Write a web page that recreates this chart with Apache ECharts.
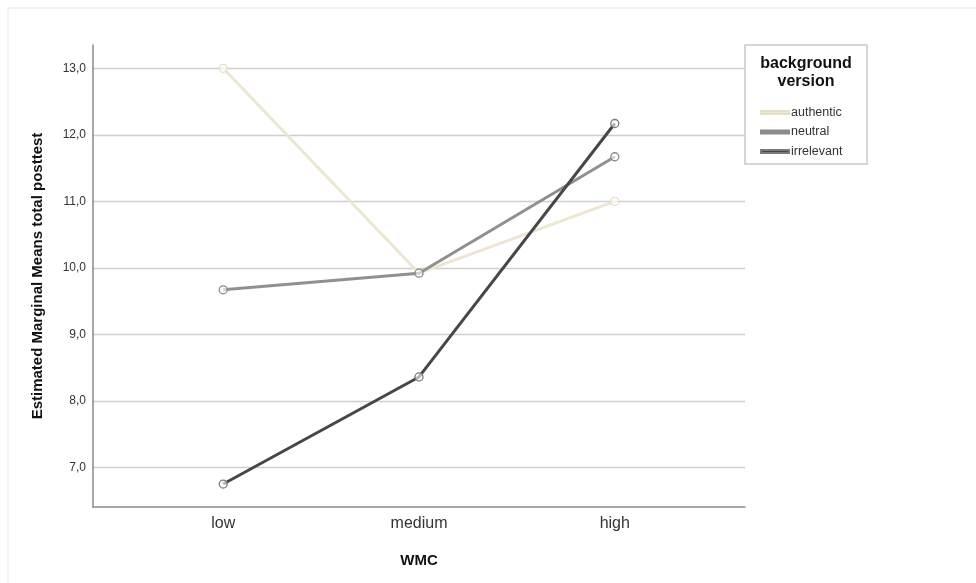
<!DOCTYPE html>
<html>
<head>
<meta charset="utf-8">
<script src="https://cdn.jsdelivr.net/npm/echarts@6/dist/echarts.min.js"></script>
<style>
html,body{margin:0;padding:0;background:#fff;}
#chart{width:976px;height:583px;}
</style>
</head>
<body>
<div id="chart"></div>
<script>
const categories = ['low', 'medium', 'high'];
const seriesNames = ['authentic', 'neutral', 'irrelevant'];
const authentic = [13.0, 9.92, 11.0];
const neutral = [9.67, 9.92, 11.67];
const irrelevant = [6.75, 8.36, 12.17];
const yTicks = [7, 8, 9, 10, 11, 12, 13];
const xTicks = [0, 1, 2];

const colors = ['#ece6d2', '#909090', '#474747'];
const markerBorders = ['#e6dfc8', '#8a8a8a', '#7a7a7a'];
const values = [authentic, neutral, irrelevant];

const chart = echarts.init(document.getElementById('chart'), null, {renderer: 'canvas'});

const series = seriesNames.map((name, i) => ({
  name: name,
  type: 'line',
  data: values[i].map((v, j) => [j, v]),
  symbol: 'circle',
  symbolSize: 8,
  showSymbol: true,
  z: 2 + i,
  lineStyle: {color: colors[i], width: 3},
  itemStyle: {color: 'rgba(255,255,255,0.6)', borderColor: markerBorders[i], borderWidth: 1.3},
  emphasis: {disabled: true}
}));

chart.setOption({
  animation: false,
  backgroundColor: '#ffffff',
  textStyle: {fontFamily: 'Liberation Sans, Arial, sans-serif'},
  grid: {left: 93, right: 231, top: 45, bottom: 76, containLabel: false},
  xAxis: {
    type: 'value',
    min: -0.665,
    max: 2.665,
    name: 'WMC',
    nameLocation: 'middle',
    nameGap: 46,
    nameTextStyle: {fontSize: 15, fontWeight: 'bold', color: '#111'},
    axisLine: {show: true, onZero: false, lineStyle: {color: '#8a8a8a', width: 1.5}},
    axisTick: {show: false, customValues: xTicks},
    splitLine: {show: false},
    axisLabel: {
      customValues: xTicks,
      formatter: v => categories[Math.round(v)] || '',
      fontSize: 16, color: '#333', margin: 9
    }
  },
  yAxis: {
    type: 'value',
    min: 6.405,
    max: 13.35,
    name: 'Estimated Marginal Means total posttest',
    nameLocation: 'middle',
    nameGap: 48,
    nameTextStyle: {fontSize: 15, fontWeight: 'bold', color: '#111'},
    axisLine: {show: true, onZero: false, lineStyle: {color: '#8a8a8a', width: 1.5}},
    axisTick: {show: false, customValues: yTicks},
    splitLine: {show: true, lineStyle: {color: '#cfcfcf', width: 1.3}},
    axisLabel: {
      customValues: yTicks,
      formatter: v => v.toFixed(1).replace('.', ','),
      fontSize: 12, color: '#333', margin: 7
    }
  },
  legend: {
    orient: 'vertical',
    left: 760,
    top: 106,
    padding: 0,
    itemWidth: 28,
    itemHeight: 3,
    itemGap: 6.5,
    icon: 'rect',
    data: seriesNames.map((n, i) => ({name: n, itemStyle: {color: colors[i]}})),
    textStyle: {fontSize: 12.5, color: '#333', padding: [0, 0, 0, -3]},
    selectedMode: false
  },
  graphic: [
    {type: 'rect', shape: {x: 8, y: 8, width: 1000, height: 600}, style: {fill: 'none', stroke: '#f1efe8', lineWidth: 1.5}, silent: true, z: -10},
    {type: 'rect', shape: {x: 745, y: 45, width: 122, height: 119}, style: {fill: '#fff', stroke: '#c8c8c8', lineWidth: 1.5}, silent: true, z: 0},
    {type: 'text', x: 806, y: 55, style: {text: 'background\nversion', font: 'bold 16px Liberation Sans, Arial, sans-serif', fill: '#111', align: 'center', lineHeight: 18}, silent: true, z: 1}
  ],
  series: series
});
</script>
</body>
</html>
